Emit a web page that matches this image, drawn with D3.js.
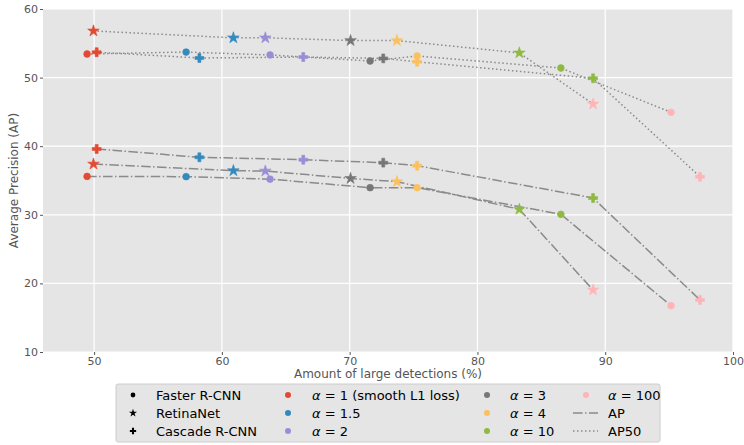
<!DOCTYPE html>
<html>
<head>
<meta charset="utf-8">
<script src="https://cdn.jsdelivr.net/npm/d3@7"></script>
<style>
  body { margin: 0; background: #fff; }
  text { font-family: "DejaVu Sans", sans-serif; }
</style>
</head>
<body>
<div id="chart"></div>
<script>
// data
var alphas = ["1", "1.5", "2", "3", "4", "10", "100"];
var alphaColors = ["#E24A33", "#348ABD", "#988ED5", "#777777", "#FBC15E", "#8EBA42", "#FFB5B8"];
var detectors = ["Faster R-CNN", "RetinaNet", "Cascade R-CNN"];

var fasterX    = [49.45, 57.2, 63.77, 71.6, 75.28, 86.53, 95.15];
var fasterAP   = [35.6, 35.56, 35.2, 33.95, 33.95, 30.07, 16.75];
var fasterAP50 = [53.44, 53.73, 53.3, 52.42, 53.15, 51.4, 44.94];

var retinaX    = [49.95, 60.9, 63.4, 70.07, 73.7, 83.28, 89.05];
var retinaAP   = [37.4, 36.43, 36.38, 35.3, 34.83, 30.8, 19.04];
var retinaAP50 = [56.8, 55.8, 55.8, 55.4, 55.4, 53.6, 46.15];

var cascadeX    = [50.2, 58.24, 66.37, 72.63, 75.28, 89.05, 97.42];
var cascadeAP   = [39.6, 38.38, 38.03, 37.6, 37.16, 32.45, 17.58];
var cascadeAP50 = [53.7, 52.86, 53.0, 52.8, 52.3, 49.9, 35.55];

var xTicks = [50, 60, 70, 80, 90, 100];
var yTicks = [10, 20, 30, 40, 50, 60];

// dimensions
var margin = {top: 9, right: 11, bottom: 93, left: 43},
    width = 744 - margin.left - margin.right,
    height = 445 - margin.top - margin.bottom;

var svg = d3.select("#chart")
  .append("svg")
    .attr("width", 744)
    .attr("height", 445);

var g = svg.append("g")
    .attr("transform", "translate(" + margin.left + "," + margin.top + ")");

var x = d3.scaleLinear().domain([46, 100]).range([0, width]);
var y = d3.scaleLinear().domain([10, 60]).range([height, 0]);

// background + grid
g.append("rect")
  .attr("width", width)
  .attr("height", height)
  .attr("fill", "#E5E5E5");

g.append("g").selectAll("line")
  .data(xTicks)
  .enter().append("line")
    .attr("x1", d => x(d)).attr("x2", d => x(d))
    .attr("y1", 0).attr("y2", height)
    .attr("stroke", "#fff").attr("stroke-width", 1.2);

g.append("g").selectAll("line")
  .data(yTicks)
  .enter().append("line")
    .attr("x1", 0).attr("x2", width)
    .attr("y1", d => y(d)).attr("y2", d => y(d))
    .attr("stroke", "#fff").attr("stroke-width", 1.2);

// axes
var xAxis = g.append("g")
  .attr("transform", "translate(0," + height + ")")
  .call(d3.axisBottom(x).tickValues(xTicks).tickSize(3).tickPadding(2));
var yAxis = g.append("g")
  .call(d3.axisLeft(y).tickValues(yTicks).tickSize(3).tickPadding(2));

[xAxis, yAxis].forEach(function(a) {
  a.select(".domain").remove();
  a.selectAll(".tick line").attr("stroke", "#555");
  a.selectAll(".tick text")
    .attr("fill", "#555")
    .style("font-size", "11px")
    .style("font-family", "DejaVu Sans");
});

g.append("text")
  .attr("x", width / 2)
  .attr("y", height + 26)
  .attr("text-anchor", "middle")
  .attr("fill", "#555")
  .style("font-size", "12px")
  .text("Amount of large detections (%)");

g.append("text")
  .attr("transform", "translate(-25," + (height / 2) + ") rotate(-90)")
  .attr("text-anchor", "middle")
  .attr("fill", "#555")
  .style("font-size", "12px")
  .text("Average Precision (AP)");

// series
var series = [
  {xs: fasterX,  ap: fasterAP,  ap50: fasterAP50,  sym: d3.symbolCircle, size: 36},
  {xs: retinaX,  ap: retinaAP,  ap50: retinaAP50,  sym: d3.symbolStar,   size: 42},
  {xs: cascadeX, ap: cascadeAP, ap50: cascadeAP50, sym: d3.symbolCross,  size: 44}
];

var dashDot = "9.6,2.4,1.5,2.4";
var dotted = "1.5,2.5";

var line = d3.line()
  .x(d => x(d[0]))
  .y(d => y(d[1]));

series.forEach(function(s) {
  var apPts = s.xs.map((v, i) => [v, s.ap[i]]);
  var ap50Pts = s.xs.map((v, i) => [v, s.ap50[i]]);

  g.append("path")
    .datum(ap50Pts)
    .attr("fill", "none")
    .attr("stroke", "#8a8a8a")
    .attr("stroke-width", 1.5)
    .attr("stroke-dasharray", dotted)
    .attr("d", line);

  g.append("path")
    .datum(apPts)
    .attr("fill", "none")
    .attr("stroke", "#8a8a8a")
    .attr("stroke-width", 1.5)
    .attr("stroke-dasharray", dashDot)
    .attr("d", line);
});

series.forEach(function(s) {
  var pts = s.xs.map((v, i) => ({x: v, y: s.ap[i], c: alphaColors[i]}))
    .concat(s.xs.map((v, i) => ({x: v, y: s.ap50[i], c: alphaColors[i]})));
  g.append("g").selectAll("path")
    .data(pts)
    .enter().append("path")
      .attr("transform", d => "translate(" + x(d.x) + "," + y(d.y) + ")")
      .attr("d", d3.symbol().type(s.sym).size(s.size))
      .attr("fill", d => d.c)
      .attr("stroke", d => d.c)
      .attr("stroke-width", 0.6);
});

// legend
var legend = svg.append("g").attr("transform", "translate(116,384)");
legend.append("rect")
  .attr("width", 544)
  .attr("height", 58)
  .attr("fill", "#E5E5E5")
  .attr("stroke", "#cccccc")
  .attr("rx", 2);

var rowY = [11, 29, 47];

detectors.forEach(function(name, i) {
  legend.append("path")
    .attr("transform", "translate(17," + rowY[i] + ")")
    .attr("d", d3.symbol().type(series[i].sym).size(series[i].size * 0.5))
    .attr("fill", "#000");
  legend.append("text")
    .attr("x", 40).attr("y", rowY[i])
    .attr("dy", "0.35em")
    .style("font-size", "13px")
    .text(name);
});

var colX = [172, 371, 470];
var textX = [196, 394, 492];

function alphaLabel(sel, val) {
  sel.append("tspan").style("font-style", "italic").text("α");
  sel.append("tspan").text(" = " + val);
}

alphas.forEach(function(a, i) {
  var col = Math.floor(i / 3), row = i % 3;
  legend.append("circle")
    .attr("cx", colX[col]).attr("cy", rowY[row])
    .attr("r", 3)
    .attr("fill", alphaColors[i]);
  var t = legend.append("text")
    .attr("x", textX[col]).attr("y", rowY[row])
    .attr("dy", "0.35em")
    .style("font-size", "13px");
  alphaLabel(t, a === "1" ? "1 (smooth L1 loss)" : a);
});

[["AP", dashDot], ["AP50", dotted]].forEach(function(d, i) {
  legend.append("line")
    .attr("x1", 457).attr("x2", 482)
    .attr("y1", rowY[i + 1]).attr("y2", rowY[i + 1])
    .attr("stroke", "#8a8a8a")
    .attr("stroke-width", 1.5)
    .attr("stroke-dasharray", d[1]);
  legend.append("text")
    .attr("x", 492).attr("y", rowY[i + 1])
    .attr("dy", "0.35em")
    .style("font-size", "13px")
    .text(d[0]);
});
</script>
</body>
</html>
